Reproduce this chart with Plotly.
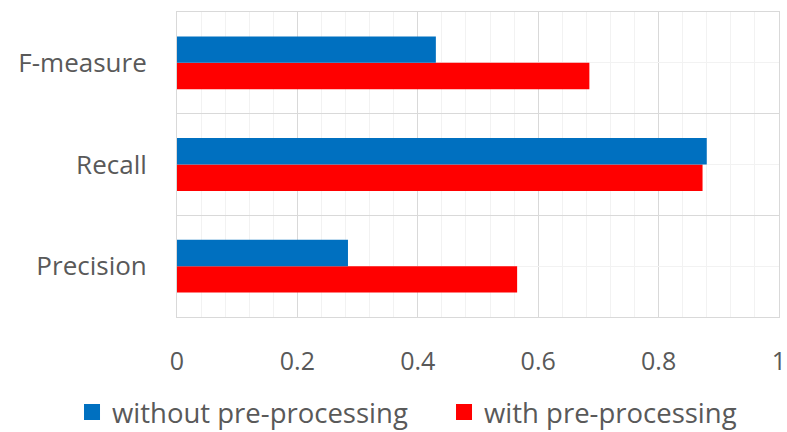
import plotly.graph_objects as go

# Evaluation metrics, listed bottom to top
categories = ["Precision", "Recall", "F-measure"]
without_pre = [0.284, 0.880, 0.430]
with_pre = [0.565, 0.873, 0.685]
x_ticks = [0, 0.2, 0.4, 0.6, 0.8, 1]
x_tick_text = ["0", "0.2", "0.4", "0.6", "0.8", "1"]

series_names = ["without pre-processing", "with pre-processing"]
series_colors = ["#0070C0", "#FF0000"]

positions = list(range(len(categories)))
font_family = "Open Sans, Calibri, sans-serif"
text_grey = "#595959"

fig = go.Figure()
# Red trace first so the blue bar sits on top within each group
fig.add_trace(go.Bar(
    y=positions, x=with_pre, orientation="h",
    name=series_names[1], showlegend=False,
    marker=dict(color=series_colors[1], line=dict(width=0)),
))
fig.add_trace(go.Bar(
    y=positions, x=without_pre, orientation="h",
    name=series_names[0], showlegend=False,
    marker=dict(color=series_colors[0], line=dict(width=0)),
))

# Legend keys: larger square swatches than the default bar symbol
for name, color in zip(series_names, series_colors):
    fig.add_trace(go.Scatter(
        x=[None], y=[None], mode="markers", name=name,
        marker=dict(symbol="square", size=16, color=color,
                    line=dict(width=0)),
        hoverinfo="skip",
    ))

fig.update_layout(
    width=787, height=432,
    margin=dict(l=177, r=8, t=12, b=115, autoexpand=False),
    paper_bgcolor="white", plot_bgcolor="white",
    barmode="group", bargap=0.48, bargroupgap=0,
    font=dict(family=font_family, color=text_grey, size=24),
    showlegend=True,
    legend=dict(
        orientation="h", traceorder="normal",
        x=-0.1744, xanchor="left", y=-0.312, yanchor="middle",
        font=dict(size=27.5, color=text_grey),
        itemwidth=30, itemsizing="trace", entrywidth=327,
        bgcolor="rgba(0,0,0,0)",
    ),
    xaxis=dict(
        range=[0, 1], automargin=False,
        tickmode="array", tickvals=x_ticks, ticktext=x_tick_text,
        showgrid=True, gridcolor="#D9D9D9", gridwidth=1,
        minor=dict(dtick=0.04, tick0=0, showgrid=True,
                   gridcolor="#F2F2F2", gridwidth=1),
        showline=True, linecolor="#D9D9D9", linewidth=1, mirror=True,
        ticks="", ticklabelstandoff=22,
        tickfont=dict(size=25, color=text_grey),
        zeroline=False, fixedrange=True,
    ),
    yaxis=dict(
        range=[-0.5, len(categories) - 0.5], automargin=False,
        tickmode="array", tickvals=positions, ticktext=categories,
        showgrid=True, gridcolor="#F2F2F2", gridwidth=1,
        minor=dict(dtick=1, tick0=0.5, showgrid=True,
                   gridcolor="#D9D9D9", gridwidth=1),
        showline=True, linecolor="#D9D9D9", linewidth=1, mirror=True,
        ticks="", ticklabelstandoff=24,
        tickfont=dict(size=26, color=text_grey),
        zeroline=False, fixedrange=True,
    ),
)

fig.write_html("out.html")
